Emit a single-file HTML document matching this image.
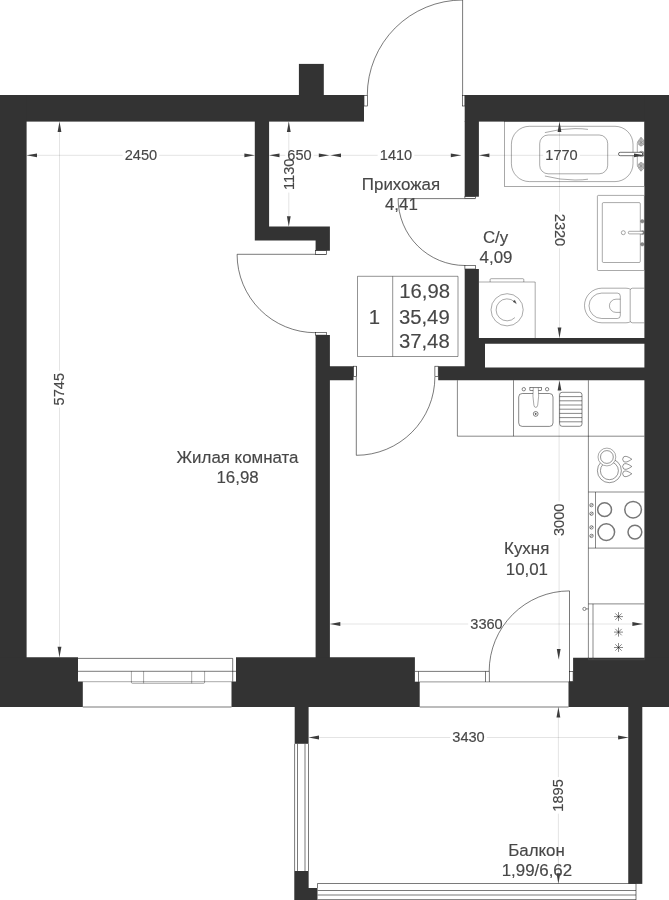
<!DOCTYPE html>
<html lang="ru">
<head>
<meta charset="utf-8">
<title>План квартиры</title>
<style>
html,body{margin:0;padding:0;background:#fff;}
body{width:669px;height:900px;overflow:hidden;}
svg{display:block;font-family:"Liberation Sans",sans-serif;will-change:transform;filter:grayscale(1);}
.w{fill:#333;}
.l{fill:none;stroke:#111;stroke-width:0.36;}
.lf{fill:#fff;stroke:#111;stroke-width:0.36;}

.d{fill:none;stroke:#111;stroke-width:0.12;}
.a{fill:#3c3c3c;}
.t{fill:#474747;font-size:16.9px;text-anchor:middle;}
.m{fill:#474747;font-size:14.6px;text-anchor:middle;}
.b{fill:#474747;font-size:20.3px;text-anchor:middle;}
text{stroke:#474747;stroke-width:0.15px;}
.k{fill:#fff;stroke:none;}
.o{fill:none;stroke:#111;stroke-width:0.56;}
.of{fill:#fff;stroke:#111;stroke-width:0.56;}
</style>
</head>
<body>
<svg width="669" height="900" viewBox="0 0 669 900">
<rect width="669" height="900" fill="#fff"/>

<g class="d">
<path d="M26.6 155.3H122.6M159.2 155.3H254.8M269.1 155.3H285.3M313.7 155.3H329.9M329.9 155.3H377.7M414.3 155.3H461.2M479.0 155.3H543.2M579.8 155.3H644.4M59.5 121.6V370.9M59.5 407.5V657.2M288.8 121.6V156.0M288.8 192.6V226.6M559.5 121.6V211.7M559.5 248.3V337.9M559.1 380.2V501.5M559.1 538.1V659.5M329.9 624.0H468.2M504.8 624.0H642.8M308.6 737.5H450.2M486.8 737.5H628.5M558.4 707.0V777.1M558.4 813.7V883.7"/>
</g>
<g class="l">
<!-- bathtub -->
<rect x="504.5" y="121.6" width="140" height="64.9"/>
<rect x="511.4" y="126.3" width="121.6" height="55.3" rx="18" ry="18"/>
<rect x="539.7" y="135" width="68" height="38.8" rx="8.5" ry="8.5"/>
<path d="M544.9 132.6Q560 128.6 575 128.6Q583 128.6 588 129.4M544.9 176Q560 180 575 180Q583 180 588 179.2"/>
<path d="M637.3 143.5Q637.3 141.5 638.6 140.8M637.3 143.5V165M637.3 165Q637.3 167 638.6 167.7"/>
<g style="stroke:#777;stroke-width:0.5;fill:#c4c4c4">
<path d="M641 137.2L643.8 140.3V144.6L641 146.2L638.6 144.6V140.3Z"/>
<path d="M641 171.3L643.8 168.2V163.9L641 162.3L638.6 163.9V168.2Z"/>
<path d="M639 140.5L643.5 144.5M643.5 140.5L639 144.5M641 137.5V146M639 164L643.5 168M643.5 164L639 168M641 162.5V171"/>
<circle cx="641.6" cy="154" r="2.8" style="fill:#aaa"/>
</g>
<rect class="lf" x="618.5" y="152.3" width="24.2" height="3.4" rx="1.7" style="stroke-width:0.6"/>
<!-- wash basin -->
<rect x="597.4" y="195.4" width="47" height="75.1" rx="1"/>
<rect x="602.3" y="202.6" width="38" height="59.9" rx="1.2"/>
<circle cx="623.3" cy="232.7" r="2"/>
<g stroke="#666" fill="#888">
<circle cx="642.3" cy="221.3" r="1.8"/>
<circle cx="642.3" cy="244.3" r="1.8"/>
<circle cx="642.6" cy="232.6" r="2"/>
</g>
<rect class="lf" x="628.3" y="231.3" width="15" height="2.6" rx="1.3"/>
<!-- toilet -->
<path d="M630.2 289.2Q628.5 288.2 626 288.2H601.8A17.3 17.3 0 0 0 601.8 322.8H626Q628.5 322.8 630.2 321.8"/>
<path d="M644.4 288.2H632.5Q630.2 288.2 630.2 290.5V320.5Q630.2 322.8 632.5 322.8H644.4"/>
<path d="M617.3 293.1H601.7A12.7 12.7 0 0 0 601.7 318.5H617.3Q620.3 318.5 620.3 315.5V296.1Q620.3 293.1 617.3 293.1Z"/>
<path d="M620.3 299.2H616A6.6 6.6 0 0 0 616 312.4H620.3"/>
<!-- washing machine -->
<path d="M479 282H535.2V338"/>
<path d="M490.1 282V279.7Q490.1 278.7 491.1 278.7H522.8Q523.8 278.7 523.8 279.7V282"/>
<circle cx="507.1" cy="309.8" r="16.1"/>
<path d="M514.9 317.6A11 11 0 1 1 514.6 301.8"/>
<path d="M516.3 303.6L513 301.6L514.8 300.2Z" fill="#444" stroke="#444"/>
</g>
<g class="l" style="stroke-width:0.5">
<!-- kitchen counter -->
<path d="M644.4 436.2H457.4V380.2M513.5 380.2V436.2M588.4 380.2V659.6M588.4 492H644.4M595.5 492V548.1M588.4 548.1H644.4"/>
<!-- kitchen sink -->
<rect x="518.7" y="393.5" width="34.3" height="32.9" rx="3.5"/>
<circle cx="523.8" cy="389.2" r="1.7"/>
<circle cx="547.1" cy="389.2" r="1.7"/>
<rect x="529.9" y="387.6" width="11.8" height="2.9"/>
<path class="lf" d="M533.3 387.6H538.3Q539.3 396 537.7 405.2Q537.3 407.4 535.8 407.4Q534.3 407.4 533.9 405.2Q532.3 396 533.3 387.6Z"/>
<circle cx="535.7" cy="413.9" r="2.4"/>
<circle cx="535.7" cy="413.9" r="0.6" fill="#555"/>
<!-- drainer -->
<rect x="559.6" y="392.3" width="22.4" height="34" rx="2.5"/>
<path d="M559.6 396.6H582M559.6 400.8H582M559.6 405H582M559.6 409.2H582M559.6 413.4H582M559.6 417.6H582M559.6 421.8H582"/>
<!-- kettle -->
<g style="stroke-width:0.45">
<circle cx="609.4" cy="470.7" r="12"/>
<circle cx="609.4" cy="470.7" r="9"/>
<circle class="lf" cx="606.9" cy="457" r="8.9"/>
<circle cx="606.9" cy="457" r="6.4"/>
<path d="M631.8 459.2Q626 455.0 623.6 456.9Q621.6 459.2 623.6 461.5Q626 463.4 631.8 459.2Z"/>
<path d="M631.8 466.5Q626 462.3 623.6 464.2Q621.6 466.5 623.6 468.8Q626 470.7 631.8 466.5Z"/>
<path d="M631.8 473.8Q626 469.6 623.6 471.5Q621.6 473.8 623.6 476.1Q626 478.0 631.8 473.8Z"/>
</g>
<!-- stove -->
<g style="stroke:#777;stroke-width:1.5">
<circle cx="604.6" cy="509.7" r="6.9"/>
<circle cx="633.1" cy="509.7" r="8.3"/>
<circle cx="606.3" cy="532.1" r="8.3"/>
<circle cx="634.9" cy="532.1" r="6.9"/>
</g>
<g>
<circle cx="591.5" cy="505.1" r="1.7"/><path d="M590.3 506.3L592.7 503.9"/>
<circle cx="591.5" cy="513.7" r="1.7"/><path d="M590.3 514.9L592.7 512.5"/>
<circle cx="591.5" cy="527.4" r="1.7"/><path d="M590.3 528.6L592.7 526.2"/>
<circle cx="591.5" cy="535.9" r="1.7"/><path d="M590.3 537.1L592.7 534.7"/>
</g>
<!-- fridge -->
<path d="M588.4 603.9H644.4M593 603.9V659.6M588.4 659.6H644.4"/>
<circle cx="584.4" cy="608.9" r="1.6"/>
<path d="M586 608.9H588.4"/>
<g id="ast">
<path d="M618.5 612.1V621.1M614 616.6H623M615.3 613.4L621.7 619.8M615.3 619.8L621.7 613.4"/>
</g>
<path transform="translate(0 15.5)" d="M618.5 612.1V621.1M614 616.6H623M615.3 613.4L621.7 619.8M615.3 619.8L621.7 613.4"/>
<path transform="translate(0 30.9)" d="M618.5 612.1V621.1M614 616.6H623M615.3 613.4L621.7 619.8M615.3 619.8L621.7 613.4"/>
</g>

<g class="o">
<!-- entrance door -->
<path d="M462.6 0V95.3M367.3 95.3A95.3 95.3 0 0 1 462.6 0"/>
<rect class="of" x="364" y="95.3" width="3.5" height="10.7"/>
<rect class="of" x="462.4" y="95.3" width="2.6" height="10.7"/>
<!-- living room door -->
<path d="M237.1 254.3H326.5M237.1 254.3A78.4 78.4 0 0 0 315.5 332.7"/>
<rect class="of" x="315.6" y="250.7" width="10.9" height="3.6"/>
<rect class="of" x="315.6" y="332.5" width="10.9" height="2.6"/>
<!-- wc door -->
<path d="M398.1 198.6H475.6M398.1 198.6A66.9 66.9 0 0 0 465 265.5"/>
<rect class="of" x="464.9" y="196.5" width="10.7" height="2.1"/>
<rect class="of" x="464.9" y="265.5" width="10.7" height="3.5"/>
<!-- kitchen door -->
<path d="M356.3 366.2V455.3M356.3 455.3A78.6 78.6 0 0 0 434.9 376.7"/>
<rect class="of" x="353.5" y="366.2" width="2.8" height="10.5"/>
<rect class="of" x="434.9" y="366.2" width="3.3" height="10.5"/>
<!-- balcony door -->
<path d="M569.5 590.9V681.6M569.5 590.9A80.3 80.3 0 0 0 489.2 671.2"/>
<rect class="of" x="569.4" y="671.3" width="3.7" height="10.5"/>
<!-- living window -->
<path d="M78 658.4H232.7V681.7M78 671.3H236"/>
<path class="l" d="M78 681.7H236"/>
<path class="l" stroke-width="0.6" d="M131.4 671.3V682.3Q131.4 683.3 132.4 683.3H203.6Q204.6 683.3 204.6 682.3V671.3M143.6 671.3V683.3M191.7 671.3V683.3"/>
<path class="o" d="M82.8 707H231.5"/>
<!-- kitchen window -->
<path d="M414.9 671.4H489.4V681.9M418.5 671.4V681.9M485.5 671.4V681.9"/>
<path d="M414.9 681.9H573.1" style="stroke-width:0.45"/>
<path class="o" d="M419.7 707H568.5"/>
<!-- balcony glazing left -->
<path d="M294.6 743.8V900M297.5 743.8V871.1M308.5 743.8V888"/>
<path class="o" d="M305 743.8V871.1" />
<!-- balcony glazing bottom -->
<path d="M317.5 888V883.5H636V900M317.5 890.5H636"/>
<path class="o" d="M317.5 895H636"/>
<path d="M317.5 899.6H636"/>
</g>

<g class="w">
<rect x="0" y="95" width="364" height="26.6"/>
<rect x="298.9" y="63.9" width="24.9" height="32"/>
<rect x="464.7" y="95" width="204.3" height="26.6"/>
<rect x="0" y="95" width="26.6" height="612"/>
<rect x="644.4" y="95" width="24.6" height="612"/>
<path d="M254.8 121H269.1V226.6H329.9V250.8H315.6V240.5H254.8Z"/>
<path d="M315.6 334.9H329.9V366.2H353.5V380.2H329.9V658H315.6Z"/>
<rect x="464.7" y="121" width="14.2" height="75.7"/>
<path d="M464.7 269H478.9V337.9H645V343.8H485V367.4H645V380.2H438.2V366.2H464.7Z"/>
<path d="M0 657.2H78V681.7H82.8V707H0Z"/>
<path d="M236 657.3H414.9V681.9H419.7V707H231.5V681.8H236Z"/>
<path d="M573.1 657.7H669V707H568.5V681.7H573.1Z"/>
<rect x="294.7" y="706" width="13.9" height="37.8"/>
<path d="M294.7 871.1H308V888H317.5V900H294.7Z"/>
<rect x="628.25" y="706" width="14.05" height="177.9"/>
</g>
<path d="M588.4 657.7V659.7H644.6V657.7M593 657.7V659.7" fill="none" stroke="#5a5a5a" stroke-width="0.5"/>
<g class="a">
<polygon points="26.6,155.3 37.0,153.4 37.0,157.2"/>
<polygon points="254.8,155.3 244.4,153.4 244.4,157.2"/>
<polygon points="269.1,155.3 279.5,153.4 279.5,157.2"/>
<polygon points="329.2,155.3 318.8,153.4 318.8,157.2"/>
<polygon points="330.6,155.3 341.0,153.4 341.0,157.2"/>
<polygon points="461.2,155.3 450.8,153.4 450.8,157.2"/>
<polygon points="479.0,155.3 489.4,153.4 489.4,157.2"/>
<polygon points="644.4,155.3 634.0,153.4 634.0,157.2"/>
<polygon points="59.5,121.6 57.6,132.0 61.4,132.0"/>
<polygon points="59.5,657.2 57.6,646.8 61.4,646.8"/>
<polygon points="288.8,121.6 286.9,132.0 290.7,132.0"/>
<polygon points="288.8,226.6 286.9,216.2 290.7,216.2"/>
<polygon points="559.5,121.6 557.6,132.0 561.4,132.0"/>
<polygon points="559.5,337.9 557.6,327.5 561.4,327.5"/>
<polygon points="559.5,380.2 557.6,390.6 561.4,390.6"/>
<polygon points="558.7,659.5 556.8,649.1 560.6,649.1"/>
<polygon points="329.9,624.0 340.3,622.1 340.3,625.9"/>
<polygon points="642.8,624.0 632.4,622.1 632.4,625.9"/>
<polygon points="308.6,737.5 319.0,735.6 319.0,739.4"/>
<polygon points="628.5,737.5 618.1,735.6 618.1,739.4"/>
<polygon points="558.4,707.0 556.5,717.4 560.3,717.4"/>
<polygon points="558.4,883.7 556.5,873.3 560.3,873.3"/>
</g>
<g>
<text class="m" x="140.9" y="160.2">2450</text>
<text class="m" x="299.5" y="160.2">650</text>
<text class="m" x="396.0" y="160.2">1410</text>
<text class="m" x="561.5" y="160.2">1770</text>
<text class="m" transform="translate(59.5 389.2) rotate(-90)" y="4.8">5745</text>
<text class="m" transform="translate(288.8 174.3) rotate(-90)" y="4.8">1130</text>
<text class="m" transform="translate(559.5 230.0) rotate(90)" y="4.8">2320</text>
<text class="m" transform="translate(559.1 519.8) rotate(-90)" y="4.8">3000</text>
<text class="m" x="486.5" y="628.9">3360</text>
<text class="m" x="468.5" y="742.4">3430</text>
<text class="m" transform="translate(558.4 795.4) rotate(-90)" y="4.8">1895</text>
<text class="t" x="237.5" y="462.6">Жилая комната</text>
<text class="t" x="237.6" y="482.5">16,98</text>
<text class="t" x="401.0" y="189.5">Прихожая</text>
<text class="t" x="401.4" y="210.2">4,41</text>
<text class="t" x="495.6" y="242.5">С/у</text>
<text class="t" x="496.0" y="262.5">4,09</text>
<text class="t" x="526.7" y="554.4">Кухня</text>
<text class="t" x="526.9" y="575.0">10,01</text>
<text class="t" x="536.5" y="856.0">Балкон</text>
<text class="t" x="536.9" y="876.2">1,99/6,62</text>
<path class="l" style="stroke-width:0.46" d="M357.5 276.3H458V356.5H357.5ZM392.7 276.3V356.5"/>
<text class="b" x="374.3" y="323.8">1</text>
<text class="b" x="424.7" y="298.3">16,98</text>
<text class="b" x="424.3" y="323.8">35,49</text>
<text class="b" x="424.3" y="348.4">37,48</text>
</g>
</svg>
</body>
</html>
